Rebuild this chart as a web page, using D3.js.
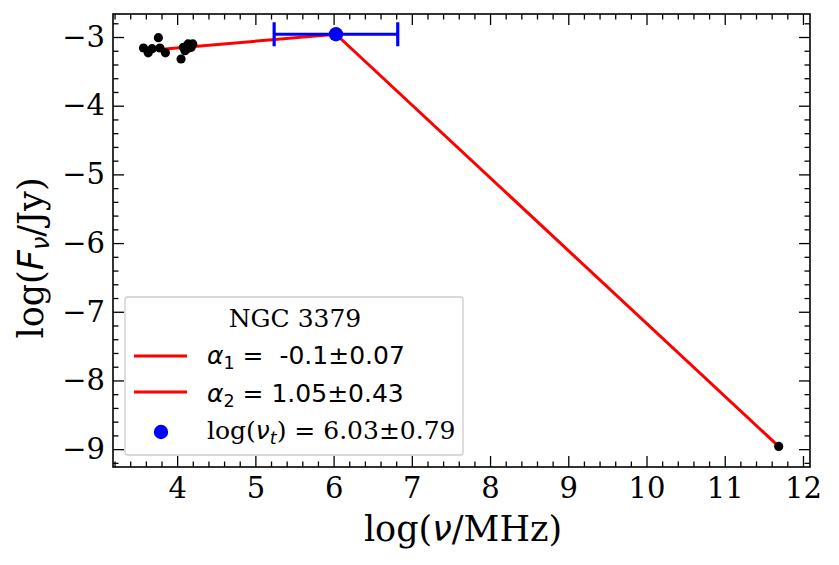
<!DOCTYPE html>
<html><head><meta charset="utf-8">
<script src="https://cdn.jsdelivr.net/npm/d3@7"></script>
<style>
body{margin:0;background:#fff;}
svg{display:block;}
text{white-space:pre;}
</style></head>
<body>
<svg id="chart" width="839" height="565"></svg>
<script>
// Observed data (log nu [MHz], log F [Jy])
const obsLogNu = [3.57, 3.63, 3.68, 3.76, 3.78, 3.85, 4.05, 4.08, 4.10, 4.13, 4.14, 4.18, 4.20, 11.69];
const obsLogF  = [-3.16, -3.23, -3.17, -3.01, -3.16, -3.23, -3.32, -3.15, -3.20, -3.17, -3.10, -3.15, -3.10, -8.96];
// Broken power-law fit
const fitLogNu = [3.58, 6.03, 11.69];
const fitLogF  = [-3.20, -2.96, -8.96];
// Turnover
const turnoverNu = [6.03];
const turnoverF = [-2.96];
const turnoverErr = [0.79];
// Ticks
const xTicks = [4, 5, 6, 7, 8, 9, 10, 11, 12];
const yTicks = [-3, -4, -5, -6, -7, -8, -9];
const legendTitle = "NGC 3379";

const svg = d3.select("#chart");
const L = 113, R = 810, T = 14, B = 467;
const x = d3.scaleLinear().domain([3.18, 12.09]).range([L, R]);
const y = d3.scaleLinear().domain([-9.26, -2.665]).range([B, T]);

const serif = "'DejaVu Serif', serif";
const sans = "'DejaVu Sans', sans-serif";

const xMinor = d3.range(3.2, 12.09, 0.2).filter(v => Math.abs(v - Math.round(v)) > 1e-6);
const yMinor = d3.range(-9.2, -2.66, 0.2).filter(v => Math.abs(v - Math.round(v)) > 1e-6);

function styleAxis(g){
  g.select(".domain").remove();
  g.selectAll("line").attr("stroke","#000").attr("stroke-width",1.3);
  g.selectAll("text").attr("font-family", serif).attr("font-size", 29).attr("fill","#000");
}

svg.append("g").attr("transform",`translate(0,${B})`)
  .call(d3.axisBottom(x).tickValues(xTicks).tickSize(-11).tickPadding(10).tickFormat(d3.format("d"))).call(styleAxis);
svg.append("g").attr("transform",`translate(0,${B})`)
  .call(d3.axisBottom(x).tickValues(xMinor).tickSize(-5.5).tickFormat("")).call(styleAxis);
svg.append("g").attr("transform",`translate(0,${T})`)
  .call(d3.axisTop(x).tickValues(xTicks).tickSize(-11).tickFormat("")).call(styleAxis);
svg.append("g").attr("transform",`translate(0,${T})`)
  .call(d3.axisTop(x).tickValues(xMinor).tickSize(-5.5).tickFormat("")).call(styleAxis);
svg.append("g").attr("transform",`translate(${L},0)`)
  .call(d3.axisLeft(y).tickValues(yTicks).tickSize(-11).tickPadding(8).tickFormat(d3.format("d"))).call(styleAxis);
svg.append("g").attr("transform",`translate(${L},0)`)
  .call(d3.axisLeft(y).tickValues(yMinor).tickSize(-5.5).tickFormat("")).call(styleAxis);
svg.append("g").attr("transform",`translate(${R},0)`)
  .call(d3.axisRight(y).tickValues(yTicks).tickSize(-11).tickFormat("")).call(styleAxis);
svg.append("g").attr("transform",`translate(${R},0)`)
  .call(d3.axisRight(y).tickValues(yMinor).tickSize(-5.5).tickFormat("")).call(styleAxis);

// fit line
const line = d3.line().x(d => x(d[0])).y(d => y(d[1]));
svg.append("path").datum(d3.zip(fitLogNu, fitLogF))
  .attr("d", line).attr("fill","none").attr("stroke","#ff0000").attr("stroke-width",3);

// observed points
svg.append("g").selectAll("circle").data(d3.zip(obsLogNu, obsLogF)).join("circle")
  .attr("cx", d => x(d[0])).attr("cy", d => y(d[1])).attr("r", 4.6).attr("fill","#000");

// turnover error bar
const tb = svg.append("g");
turnoverNu.forEach((v,i) => {
  const yy = y(turnoverF[i]);
  const x0 = x(v - turnoverErr[i]), x1 = x(v + turnoverErr[i]);
  tb.append("line").attr("x1",x0).attr("x2",x1).attr("y1",yy).attr("y2",yy)
    .attr("stroke","#0000ff").attr("stroke-width",3.2);
  [x0,x1].forEach(xx => tb.append("line").attr("x1",xx).attr("x2",xx).attr("y1",yy-12).attr("y2",yy+12)
    .attr("stroke","#0000ff").attr("stroke-width",3.2));
  tb.append("circle").attr("cx", x(v)).attr("cy", yy).attr("r", 7.2).attr("fill","#0000ff");
});

// frame
svg.append("rect").attr("x",L).attr("y",T).attr("width",R-L).attr("height",B-T)
  .attr("fill","none").attr("stroke","#000").attr("stroke-width",1.6);

// axis labels
const xl = svg.append("text").attr("x", 463).attr("y", 541).attr("text-anchor","middle")
  .attr("font-family", serif).attr("font-size", 35).attr("fill","#000");
xl.append("tspan").text("log(");
xl.append("tspan").attr("font-family", sans).attr("font-style","italic").text("ν");
xl.append("tspan").text("/MHz)");

const yl = svg.append("text").attr("transform","translate(43,258) rotate(-90)").attr("text-anchor","middle")
  .attr("font-family", serif).attr("font-size", 35).attr("fill","#000");
yl.append("tspan").text("log(");
yl.append("tspan").attr("font-family", sans).attr("font-style","italic").text("F");
yl.append("tspan").attr("font-family", sans).attr("font-style","italic").attr("font-size",24).attr("dy",6).text("ν");
yl.append("tspan").attr("dy",-6).text("/Jy)");

// legend
const lg = svg.append("g");
lg.append("rect").attr("x",125).attr("y",297).attr("width",338).attr("height",158).attr("rx",3)
  .attr("fill","#fff").attr("fill-opacity",0.8).attr("stroke","#cccccc").attr("stroke-width",1.3);
lg.append("text").attr("x",295).attr("y",327).attr("text-anchor","middle")
  .attr("font-family", serif).attr("font-size", 25).attr("fill","#000").text(legendTitle);

lg.append("line").attr("x1",134).attr("x2",187).attr("y1",356).attr("y2",356).attr("stroke","#ff0000").attr("stroke-width",3);
lg.append("line").attr("x1",134).attr("x2",187).attr("y1",392).attr("y2",392).attr("stroke","#ff0000").attr("stroke-width",3);
lg.append("circle").attr("cx",161).attr("cy",432).attr("r",7.2).attr("fill","#0000ff");

const t1 = lg.append("text").attr("x",207).attr("y",364).attr("font-family", sans).attr("font-size",25).attr("fill","#000");
t1.append("tspan").attr("font-style","italic").text("α");
t1.append("tspan").attr("font-size",17.5).attr("dy",5).text("1");
t1.append("tspan").attr("dy",-5).text(" =  -0.1±0.07");

const t2 = lg.append("text").attr("x",207).attr("y",402).attr("font-family", sans).attr("font-size",25).attr("fill","#000");
t2.append("tspan").attr("font-style","italic").text("α");
t2.append("tspan").attr("font-size",17.5).attr("dy",5).text("2");
t2.append("tspan").attr("dy",-5).text(" = 1.05±0.43");

const t3 = lg.append("text").attr("x",207).attr("y",439).attr("font-family", serif).attr("font-size",25).attr("fill","#000");
t3.append("tspan").text("log(");
t3.append("tspan").attr("font-family", sans).attr("font-style","italic").text("ν");
t3.append("tspan").attr("font-family", sans).attr("font-style","italic").attr("font-size",17.5).attr("dy",5).text("t");
t3.append("tspan").attr("dy",-5).text(") = 6.03±0.79");
</script>
</body></html>
